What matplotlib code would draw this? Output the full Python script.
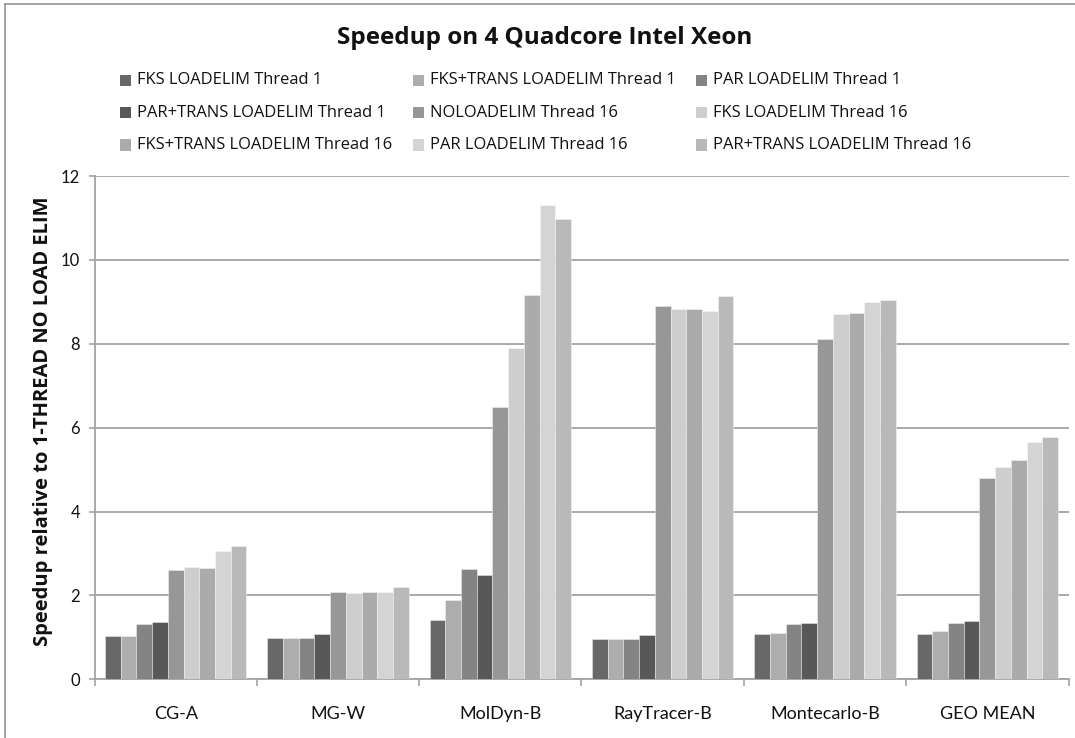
import numpy as np
import matplotlib
matplotlib.use("Agg")
import matplotlib.pyplot as plt
from matplotlib.patches import Rectangle
from matplotlib.lines import Line2D

plt.rcParams['font.family'] = ['Lato', 'DejaVu Sans']
WIDE = ['Open Sans', 'DejaVu Sans']

# ---- data -------------------------------------------------------------
benchmarks = ["CG-A", "MG-W", "MolDyn-B", "RayTracer-B", "Montecarlo-B", "GEO MEAN"]

series_names = [
    "FKS LOADELIM Thread 1",
    "FKS+TRANS LOADELIM Thread 1",
    "PAR LOADELIM Thread 1",
    "PAR+TRANS LOADELIM Thread 1",
    "NOLOADELIM Thread 16",
    "FKS LOADELIM Thread 16",
    "FKS+TRANS LOADELIM Thread 16",
    "PAR LOADELIM Thread 16",
    "PAR+TRANS LOADELIM Thread 16",
]

fks_t1       = [1.03, 0.98, 1.41, 0.97, 1.09, 1.09]
fks_trans_t1 = [1.03, 0.98, 1.88, 0.97, 1.10, 1.16]
par_t1       = [1.31, 0.98, 2.63, 0.96, 1.31, 1.34]
par_trans_t1 = [1.37, 1.07, 2.48, 1.05, 1.34, 1.39]
noload_t16   = [2.61, 2.09, 6.49, 8.90, 8.11, 4.81]
fks_t16      = [2.67, 2.05, 7.89, 8.83, 8.71, 5.07]
fks_trans_t16 = [2.66, 2.07, 9.16, 8.83, 8.74, 5.23]
par_t16      = [3.07, 2.09, 11.32, 8.79, 9.00, 5.66]
par_trans_t16 = [3.19, 2.20, 10.98, 9.14, 9.04, 5.77]

series_values = [fks_t1, fks_trans_t1, par_t1, par_trans_t1, noload_t16,
                 fks_t16, fks_trans_t16, par_t16, par_trans_t16]

y_ticks = [0, 2, 4, 6, 8, 10, 12]

# ---- style -------------------------------------------------------------
colors = ["#686868", "#adadad", "#848484", "#585858", "#979797",
          "#cdcecd", "#ababab", "#d4d4d4", "#b9b9b9"]
grid_color = "#a3a3a3"

W, H = 1075, 738
fig = plt.figure(figsize=(W / 100, H / 100), dpi=100)

def fx(px):
    return px / W

def fy(py):
    return 1 - py / H

ax_left, ax_right, ax_top, ax_bottom = 94.5, 1068.5, 176.1, 679.3
ax = fig.add_axes([fx(ax_left), fy(ax_bottom),
                   fx(ax_right - ax_left), (ax_bottom - ax_top) / H])

n = len(series_values)
bar_w = 1.0 / (n + 1.35)
x = np.arange(len(benchmarks))
for i, vals in enumerate(series_values):
    ax.bar(x + (i - (n - 1) / 2) * bar_w, vals, width=bar_w,
           color=colors[i], edgecolor=(1, 1, 1, 0.45), linewidth=0.6,
           zorder=3, label=series_names[i])

ax.set_xlim(-0.5, len(benchmarks) - 0.5)
ax.set_ylim(0, 12)
ax.set_yticks(y_ticks)
ax.set_yticklabels([str(t) for t in y_ticks])
ax.set_xticks(x)
ax.set_xticklabels(benchmarks)
ax.set_xticks(np.arange(len(benchmarks) + 1) - 0.5, minor=True)

ax.tick_params(axis='x', which='major', length=0, pad=19, labelsize=13,
               labelcolor='#111111')
ax.tick_params(axis='x', which='minor', length=5, width=1.2, color=grid_color,
               direction='out')
ax.tick_params(axis='y', which='major', length=4.5, width=1.2, color=grid_color,
               direction='out', pad=6, labelsize=12, labelcolor='#111111')

ax.yaxis.grid(True, color=grid_color, linewidth=1.3, zorder=0)
ax.set_axisbelow(True)
for side in ('top', 'right'):
    ax.spines[side].set_visible(False)
for side in ('left', 'bottom'):
    ax.spines[side].set_color(grid_color)
    ax.spines[side].set_linewidth(1.3)

# ---- title and axis label ----------------------------------------------
fig.text(fx(545), fy(38), "Speedup on 4 Quadcore Intel Xeon",
         ha='center', va='center', fontsize=17.5, fontweight='bold',
         color='#111111', family=WIDE)
fig.text(fx(43), fy(421), "Speedup relative to 1-THREAD NO LOAD ELIM",
         ha='center', va='center', rotation=90, fontsize=14.5,
         fontweight='bold', color='#111111', family=WIDE)

# ---- legend (three columns, row-major) ---------------------------------
col_x = [120, 413, 696]
row_y = [80.5, 112.7, 145]
sq = 11
for i, name in enumerate(series_names):
    r, c = divmod(i, 3)
    fig.patches.append(Rectangle((fx(col_x[c]), fy(row_y[r] + sq / 2)),
                                 sq / W, sq / H, transform=fig.transFigure,
                                 facecolor=colors[i], edgecolor='none'))
    fig.text(fx(col_x[c] + sq + 6), fy(row_y[r]), name, ha='left',
             va='center', fontsize=11.9, color='#111111', family=WIDE)

# ---- outer chart frame --------------------------------------------------
frame_color = "#8c8c8c"
fig.add_artist(Line2D([fx(5), 1], [fy(4), fy(4)], color=frame_color,
                      linewidth=1.1, transform=fig.transFigure))
fig.add_artist(Line2D([fx(5), fx(5)], [fy(4), 0], color=frame_color,
                      linewidth=1.1, transform=fig.transFigure))

fig.savefig("out.png", dpi=100)
